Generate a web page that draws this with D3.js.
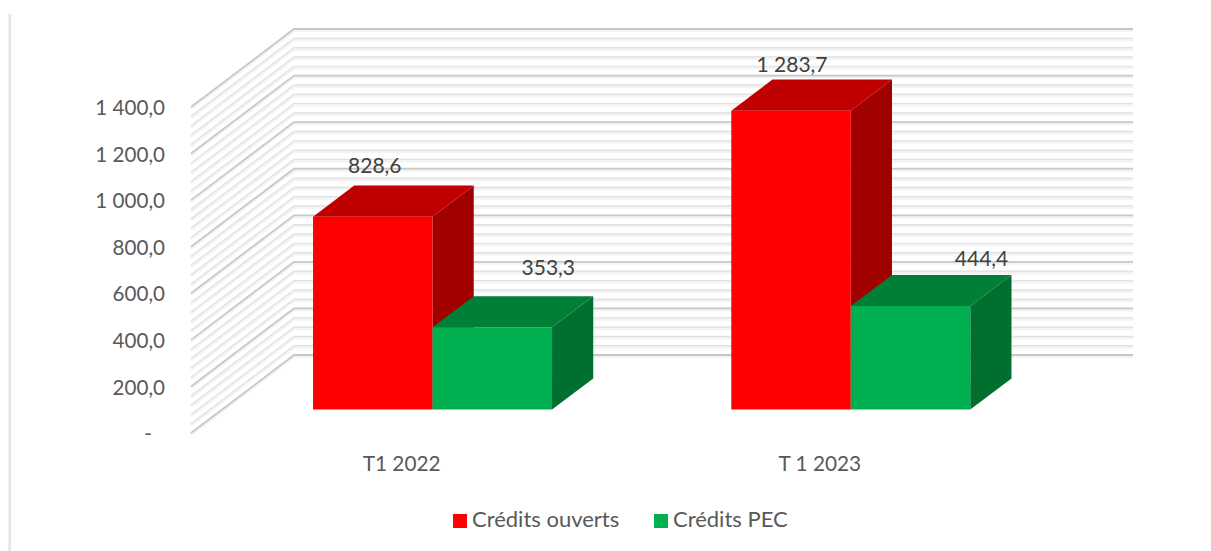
<!DOCTYPE html>
<html>
<head>
<meta charset="utf-8">
<script src="https://cdn.jsdelivr.net/npm/d3@7"></script>
<style>
    html, body { margin: 0; padding: 0; background: #fff; }
    svg { display: block; }
    text { font-family: Lato, "Open Sans", sans-serif; }
</style>
</head>
<body>
<svg id="chart"></svg>
<script>
// Crédits ouverts / crédits PEC, T1 2022 et T1 2023
const categories = ["T1 2022", "T 1 2023"]
const seriesNames = ["Crédits ouverts", "Crédits PEC"]
const creditsOuverts = [828.6, 1283.7]
const creditsPec = [353.3, 444.4]
const valueLabelsOuverts = ["828,6", "1 283,7"]
const valueLabelsPec = ["353,3", "444,4"]
const yTicks = [0, 200, 400, 600, 800, 1000, 1200, 1400]
const yTickLabels = ["-", "200,0", "400,0", "600,0", "800,0", "1 000,0", "1 200,0", "1 400,0"]
const yMax = 1400
const minorStep = 40

let svgWidth = 1211
let svgHeight = 551

// plan avant du graphique + décalage de la perspective
let plot = { left: 191, right: 1030, top: 107, bottom: 433 }
let depth = { dx: 103, dy: -78 }
let barDepth = { front: 0.30, back: 0.70 }

const colors = {
    red: { front: "#ff0000", top: "#c00000", side: "#a00000" },
    green: { front: "#00b050", top: "#008037", side: "#006f30" }
}

const svg = d3.select("#chart")
    .attr("width", svgWidth)
    .attr("height", svgHeight)

// bordure à gauche
svg.append("line")
    .attr("x1", 9.7).attr("x2", 9.7)
    .attr("y1", 14).attr("y2", 551)
    .attr("stroke", "#e4e4e4")
    .attr("stroke-width", 2.4)

const x = d3.scaleBand()
    .domain(categories)
    .range([plot.left + 1.5, plot.right - 1])

const y = d3.scaleLinear()
    .domain([0, yMax])
    .range([plot.bottom, plot.top])

function project(px, py, d) {
    return [px + depth.dx * d, py + depth.dy * d]
}

function poly(points) {
    return d3.line()(points) + "Z"
}

// quadrillage : mur gauche + mur du fond
const gridValues = d3.range(0, yMax + 1, minorStep)
const grid = svg.append("g").attr("id", "grid")

function isMajor(v) { return v % 200 == 0 }

gridValues.forEach(v => {
    let a = [plot.left, y(v)]
    let b = project(plot.left, y(v), 1)
    let c = project(plot.right, y(v), 1)
    let path = d3.line()([a, b, c])
    // bande claire sous la ligne
    grid.append("path")
        .attr("d", path)
        .attr("transform", "translate(0,1.5)")
        .attr("fill", "none")
        .attr("stroke", "#f3f3f3")
        .attr("stroke-width", 3)
    grid.append("path")
        .attr("d", path)
        .attr("fill", "none")
        .attr("stroke", isMajor(v) ? "#c8c8c8" : "#e0e0e0")
        .attr("stroke-width", isMajor(v) ? 1.8 : 1.2)
})

// barres
const series = [
    { name: seriesNames[0], values: creditsOuverts, labels: valueLabelsOuverts, color: colors.red },
    { name: seriesNames[1], values: creditsPec, labels: valueLabelsPec, color: colors.green }
]

// largeur d'une barre = bande / 3.5
const barScale = d3.scaleBand()
    .domain(seriesNames)
    .range([0, x.bandwidth() * 2 / 3.5])

const barOffset = (x.bandwidth() - barScale.range()[1]) / 2

// le vert se dessine après le rouge, comme dans la perspective
const bars = svg.append("g").attr("id", "bars")
categories.forEach((cat, i) => {
    series.forEach(s => {
        let x0 = x(cat) + barOffset + barScale(s.name)
        let x1 = x0 + barScale.bandwidth()
        let yTop = y(s.values[i])
        let yBase = y(0)

        let f = barDepth.front
        let b = barDepth.back
        let fl = project(x0, yTop, f)
        let fr = project(x1, yTop, f)
        let bl = project(x0, yTop, b)
        let br = project(x1, yTop, b)
        let frb = project(x1, yBase, f)
        let brb = project(x1, yBase, b)
        let flb = project(x0, yBase, f)

        bars.append("path").attr("d", poly([fr, br, brb, frb])).attr("fill", s.color.side)
        bars.append("path").attr("d", poly([fl, bl, br, fr])).attr("fill", s.color.top)
        bars.append("path").attr("d", poly([fl, fr, frb, flb])).attr("fill", s.color.front)
    })
})

// étiquettes de valeurs (déplacées à la main dans l'original)
const labelNudge = [
    [[2, -51], [1, -46]],
    [[56, -60], [71, -47]]
]
const labelSize = 21
const textColor = "#404040"

series.forEach((s, si) => {
    categories.forEach((cat, i) => {
        let cx = x(cat) + barOffset + barScale(s.name) + barScale.bandwidth() / 2
        let p = project(cx, y(s.values[i]), barDepth.front)
        svg.append("text")
            .attr("x", p[0] + labelNudge[si][i][0])
            .attr("y", p[1] + labelNudge[si][i][1])
            .attr("dy", "0.35em")
            .attr("text-anchor", "middle")
            .attr("font-size", labelSize)
            .attr("fill", textColor)
            .text(s.labels[i])
    })
})

// axes
const yAxis = svg.append("g")
    .attr("transform", "translate(165,1)")
    .call(d3.axisLeft(y)
        .tickValues(yTicks)
        .tickSize(0)
        .tickPadding(0)
        .tickFormat((d, i) => yTickLabels[i]))

yAxis.select(".domain").remove()
yAxis.selectAll("text")
    .attr("font-size", 20.6)
    .attr("fill", "#595959")
    .style("font-family", "Lato, 'Open Sans', sans-serif")

// le tiret du zéro est décalé (format comptable)
yAxis.selectAll("text")
    .filter(d => d == 0)
    .attr("x", -13)

const xAxis = svg.append("g")
    .attr("transform", "translate(0,456)")
    .call(d3.axisBottom(x).tickSize(0).tickPadding(0))

xAxis.select(".domain").remove()
xAxis.selectAll("text")
    .attr("font-size", 20.8)
    .attr("fill", "#595959")
    .style("font-family", "Lato, 'Open Sans', sans-serif")

// légende
const legendX = d3.scaleOrdinal().domain(seriesNames).range([453, 654])
const legend = svg.append("g").selectAll("g")
    .data(series)
    .enter()
    .append("g")
    .attr("transform", d => `translate(${legendX(d.name)},514)`)

legend.append("rect")
    .attr("width", 14)
    .attr("height", 14)
    .attr("fill", d => d.color.front)

legend.append("text")
    .attr("x", 19)
    .attr("y", 5)
    .attr("dy", "0.35em")
    .attr("font-size", 22)
    .attr("fill", "#595959")
    .text(d => d.name)
</script>
</body>
</html>
